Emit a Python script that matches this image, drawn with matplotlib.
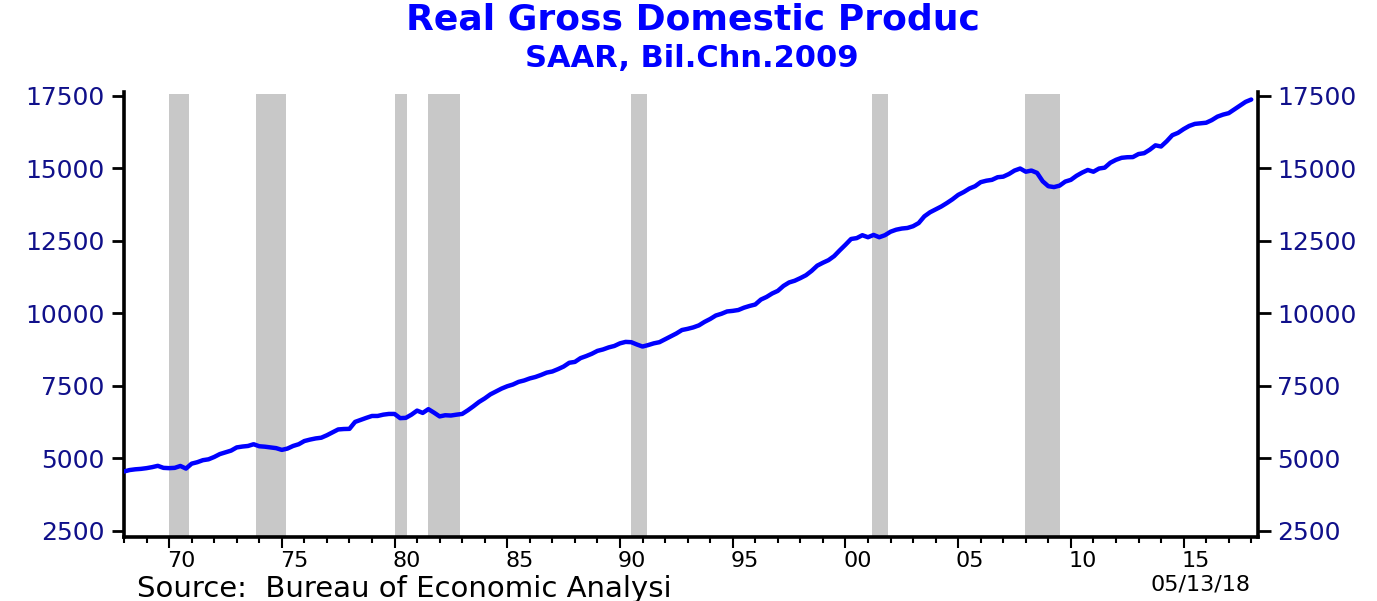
import matplotlib
matplotlib.use("Agg")
import matplotlib.pyplot as plt
from matplotlib.transforms import ScaledTranslation
import numpy as np

# Quarterly real GDP (SAAR, bil. chained 2009 $), 1968Q1 .. 2018Q1
gdp_1968_1979 = [4540, 4590, 4615, 4630, 4655, 4690, 4735, 4665, 4655, 4665, 4730, 4640,
                 4810, 4860, 4930, 4960, 5040, 5140, 5200, 5260, 5370, 5400, 5420, 5480,
                 5410, 5395, 5370, 5345, 5285, 5330, 5420, 5480, 5590, 5640, 5680, 5705,
                 5790, 5890, 5990, 6005, 6010, 6250, 6320, 6390, 6455, 6455, 6500, 6525]
gdp_1980_1989 = [6525, 6380, 6390, 6500, 6640, 6560, 6690, 6570, 6440, 6480, 6470, 6500,
                 6525, 6650, 6790, 6940, 7060, 7200, 7300, 7400, 7480, 7540, 7630, 7680,
                 7750, 7800, 7870, 7950, 7990, 8070, 8160, 8290, 8320, 8450, 8520, 8600,
                 8700, 8750, 8820, 8870]
gdp_1990_1999 = [8960, 9010, 9000, 8920, 8850, 8900, 8960, 9000, 9100, 9200, 9300, 9420,
                 9460, 9510, 9580, 9700, 9800, 9920, 9980, 10060, 10080, 10110, 10190, 10250,
                 10300, 10470, 10560, 10680, 10770, 10940, 11060, 11120, 11210, 11310, 11460, 11640,
                 11740, 11830, 11970, 12170]
gdp_2000_2009 = [12360, 12560, 12590, 12690, 12620, 12700, 12620, 12690, 12810, 12880, 12920, 12940,
                 13000, 13110, 13340, 13480, 13580, 13680, 13800, 13930, 14080, 14180, 14300, 14380,
                 14520, 14570, 14600, 14690, 14710, 14800, 14920, 14990, 14880, 14920, 14840, 14550,
                 14380, 14350, 14400, 14540]
gdp_2010_2018 = [14600, 14740, 14850, 14940, 14880, 14990, 15020, 15190, 15290, 15360, 15380, 15385,
                 15490, 15520, 15640, 15790, 15750, 15930, 16140, 16220, 16350, 16460, 16530, 16550,
                 16570, 16660, 16780, 16850, 16900, 17030, 17160, 17290, 17370]
start_year = 1968

# Recession periods (start, end) in decimal years
recession_start = [1970.0, 1973.85, 1980.0, 1981.5, 1990.5, 2001.2, 2007.95]
recession_end = [1970.88, 1975.2, 1980.55, 1982.9, 1991.2, 2001.9, 2009.5]

ytick_vals = [2500, 5000, 7500, 10000, 12500, 15000, 17500]
xtick_years = [1970, 1975, 1980, 1985, 1990, 1995, 2000, 2005, 2010, 2015]
xtick_labels = ['70', '75', '80', '85', '90', '95', '00', '05', '10', '15']

gdp = gdp_1968_1979 + gdp_1980_1989 + gdp_1990_1999 + gdp_2000_2009 + gdp_2010_2018
x = start_year + np.arange(len(gdp)) / 4.0

W, H = 1377, 601
fig = plt.figure(figsize=(W / 100, H / 100), dpi=100)
ax = fig.add_axes([124 / W, 1 - 537 / H, (1258 - 124) / W, (537 - 92) / H])

ylo, yhi = 2280, 17630
for s, e in zip(recession_start, recession_end):
    ax.axvspan(s, e, ymin=0, ymax=0.995, color='#c8c8c8', lw=0, zorder=1)

ax.plot(x, gdp, color='#0000ff', lw=3.2, zorder=3, solid_capstyle='round')

ax.set_xlim(1968.0, 2018.3)
ax.set_ylim(ylo, yhi)

navy = '#10108a'
ax.set_yticks(ytick_vals)
ax.set_yticklabels([str(v) for v in ytick_vals])
ax.tick_params(axis='y', which='major', direction='out', length=9, width=2,
               left=True, right=True, labelleft=True, labelright=True,
               labelsize=18, labelcolor=navy, pad=5)
for lab in ax.get_yticklabels(which='both'):
    lab.set_fontfamily('DejaVu Sans')

ax.set_xticks(xtick_years)
ax.set_xticklabels(xtick_labels)
ax.set_xticks(np.arange(1968, 2019), minor=True)
ax.tick_params(axis='x', which='major', direction='out', length=8, width=1.5,
               labelsize=16, labelcolor='black', pad=2)
ax.tick_params(axis='x', which='minor', direction='out', length=4, width=1.5)
offset = ScaledTranslation(12 / 100, 0, fig.dpi_scale_trans)
for lab in ax.get_xticklabels():
    lab.set_transform(lab.get_transform() + offset)

for side in ['left', 'right', 'bottom']:
    ax.spines[side].set_linewidth(2.6)
    ax.spines[side].set_color('black')
ax.spines['top'].set_visible(False)
ax.spines['left'].set_bounds(ylo, yhi)
ax.spines['right'].set_bounds(ylo, yhi)

fig.text(693 / W, 1 - 29 / H, 'Real Gross Domestic Produc', ha='center', va='baseline',
         color='#0000ff', fontsize=26, fontweight='bold', family='DejaVu Sans')
fig.text(692 / W, 1 - 67 / H, 'SAAR, Bil.Chn.2009', ha='center', va='baseline',
         color='#0000ff', fontsize=22, fontweight='bold', family='DejaVu Sans')
fig.text(137 / W, 1 - 597 / H, 'Source:  Bureau of Economic Analysi', ha='left',
         va='baseline', color='black', fontsize=21, family='DejaVu Sans')
fig.text(1250 / W, 1 - 590 / H, '05/13/18', ha='right', va='baseline',
         color='black', fontsize=16, family='DejaVu Sans')

fig.savefig('out.png', dpi=100, facecolor='white')
